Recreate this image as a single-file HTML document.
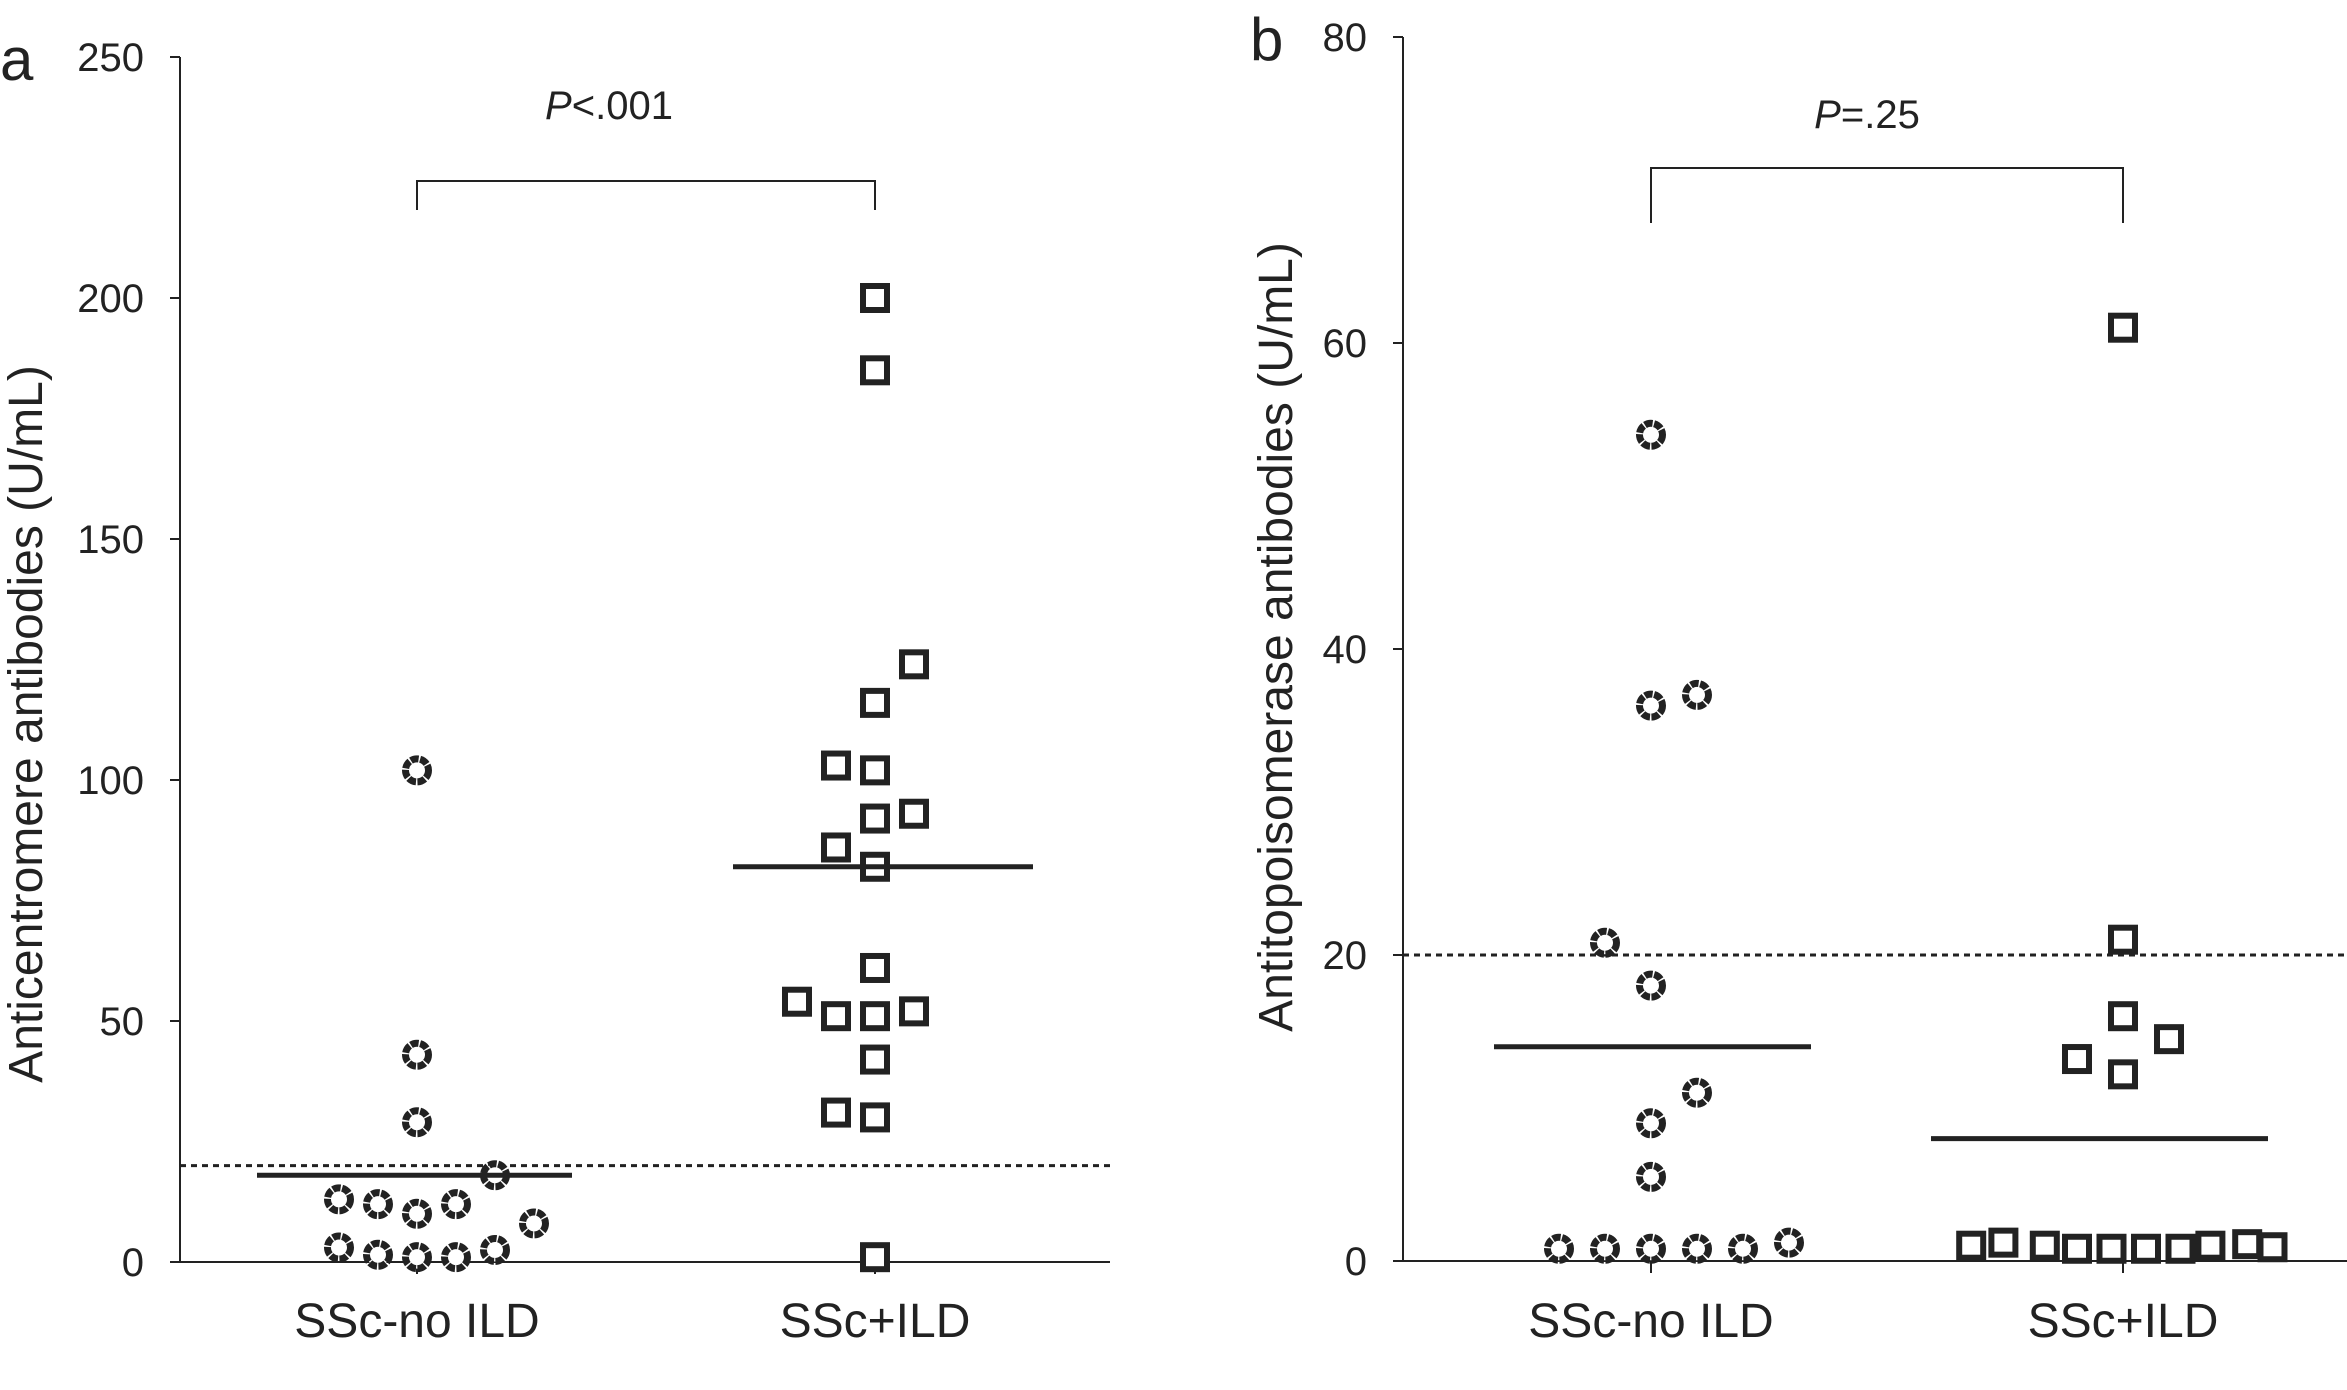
<!DOCTYPE html>
<html><head><meta charset="utf-8"><style>
html,body{margin:0;padding:0;background:#fff;}
svg{display:block;font-family:"Liberation Sans",Arial,sans-serif;}
</style></head><body>
<svg id="chart" width="2347" height="1390" viewBox="0 0 2347 1390" xmlns="http://www.w3.org/2000/svg"></svg>
<script>
// Panel a data
const aTicks = [0,50,100,150,200,250];
const aNoIldValues = [102,43,29,18,13,12,10,12,8,3,1.5,1,1,2.5];
const aNoIldSlots  = [0,0,0,2,-2,-1,0,1,3,-2,-1,0,1,2];
const aIldValues = [200,185,124,116,103,102,92,93,86,82,61,54,51,51,52,42,31,30,1];
const aIldSlots  = [0,0,1,0,-1,0,0,1,-1,0,0,-2,-1,0,1,0,-1,0,0];
const aMeans = [18,82];
const aCutoff = 20;
const aPText = "<.001";
// Panel b data
const bTicks = [0,20,40,60,80];
const bNoIldValues = [54,36.3,37,20.8,18,11,9,5.5,0.8,0.8,0.8,0.8,0.8,1.2];
const bNoIldSlots  = [0,0,1,-1,0,1,0,0,-2,-1,0,1,2,3];
const bIldValues = [61,21,16,14.5,13.2,12.2,1,1.2,1,0.8,0.8,0.8,0.8,1,1.1,0.9];
const bIldSlots  = [0,0,0,1,-1,0,-3.3,-2.6,-1.7,-1,-0.25,0.5,1.25,1.9,2.7,3.25];
const bMeans = [14,8];
const bCutoff = 20;
const bPText = "=.25";
const categories = ["SSc-no ILD","SSc+ILD"];

const svg = document.getElementById('chart');
const NS = "http://www.w3.org/2000/svg";
function mk(tag, attrs, parent){
  const e = document.createElementNS(NS, tag);
  for (const k in attrs) e.setAttribute(k, attrs[k]);
  (parent||svg).appendChild(e);
  return e;
}
const C = "#222";

function panel(cfg){
  const g = mk('g', {});
  
  
  const y = v => cfg.y0 - v / cfg.max * (cfg.y0 - cfg.yTop);
  const ya = mk('line',{x1:cfg.ax,y1:cfg.yTop,x2:cfg.ax,y2:cfg.y0,stroke:C,'stroke-width':2},g);
  
  
  const xa = mk('line',{x1:cfg.ax,y1:cfg.y0,x2:cfg.xEnd,y2:cfg.y0,stroke:C,'stroke-width':2},g);
  
  
  cfg.ticks.forEach(t=>{
    mk('line',{x1:cfg.ax-10,y1:y(t),x2:cfg.ax,y2:y(t),stroke:C,'stroke-width':2},g);
    const tl = mk('text',{x:cfg.ax-36,y:y(t)+14,'text-anchor':'end','font-size':40,fill:C},g);
    tl.textContent = t;
    
    
  });
  cfg.centers.forEach((cx,i)=>{
    mk('line',{x1:cx,y1:cfg.y0,x2:cx,y2:cfg.y0+12,stroke:C,'stroke-width':2},g);
    const cl = mk('text',{x:cx,y:1337,'text-anchor':'middle','font-size':48,fill:C},g);
    cl.textContent = categories[i];
    
    
  });
  const yl = mk('text',{x:0,y:0,'text-anchor':'middle','font-size':48,fill:C,transform:`translate(${cfg.ylx},${cfg.yly}) rotate(-90)`},g);
  yl.textContent = cfg.ylabel;
  
  
  const pl = mk('text',{x:cfg.letterX,y:cfg.letterY,'font-size':60,fill:C},g);
  pl.textContent = cfg.letter;
  
  
  const cut = mk('line',{x1:cfg.ax,y1:y(cfg.cutoff),x2:cfg.xEnd,y2:y(cfg.cutoff),stroke:C,'stroke-width':3,'stroke-dasharray':'6,5'},g);
  
  
  const br = mk('path',{d:`M${cfg.centers[0]},${cfg.brB} V${cfg.brT} H${cfg.centers[1]} V${cfg.brB}`,fill:'none',stroke:C,'stroke-width':2},g);
  
  
  const pt = mk('text',{x:cfg.pX,y:cfg.pY,'text-anchor':'middle','font-size':40,fill:C},g);
  
  
  const ti = mk('tspan',{'font-style':'italic'},pt); ti.textContent='P';
  const tr = mk('tspan',{},pt); tr.textContent=cfg.pText;
  cfg.leftV.forEach((v,i)=>{
    const c = mk('circle',{cx:cfg.centers[0]+cfg.leftS[i]*cfg.slot,cy:y(v),r:11.5,fill:'#fff',stroke:C,'stroke-width':7,'stroke-dasharray':'8,1.5'},g);
    
    
  });
  cfg.rightV.forEach((v,i)=>{
    const s = 24;
    const r = mk('rect',{x:cfg.centers[1]+cfg.rightS[i]*cfg.slot-s/2,y:y(v)-s/2,width:s,height:s,fill:'#fff',stroke:C,'stroke-width':6},g);
    
    
  });
  cfg.means.forEach((m,i)=>{
    const ml = mk('line',{x1:cfg.meanX[i][0],y1:y(m),x2:cfg.meanX[i][1],y2:y(m),stroke:C,'stroke-width':5},g);
    
    
  });
}

panel({name:'panel-a',ax:180,yTop:57,y0:1262,max:250,xEnd:1110,centers:[417,875],ticks:aTicks,
  ylabel:'Anticentromere antibodies (U/mL)',ylx:42,yly:724,letter:'a',letterX:0,letterY:80,
  cutoff:aCutoff,brT:181,brB:210,pX:609,pY:119,pText:aPText,
  leftV:aNoIldValues,leftS:aNoIldSlots,rightV:aIldValues,rightS:aIldSlots,slot:39,
  means:aMeans,meanX:[[257,572],[733,1033]]});
panel({name:'panel-b',ax:1403,yTop:37,y0:1261,max:80,xEnd:2347,centers:[1651,2123],ticks:bTicks,
  ylabel:'Antitopoisomerase antibodies (U/mL)',ylx:1292,yly:637,letter:'b',letterX:1250,letterY:60,
  cutoff:bCutoff,brT:168,brB:223,pX:1867,pY:128,pText:bPText,
  leftV:bNoIldValues,leftS:bNoIldSlots,rightV:bIldValues,rightS:bIldSlots,slot:46,
  means:bMeans,meanX:[[1494,1811],[1931,2268]]});
</script>
</body></html>
